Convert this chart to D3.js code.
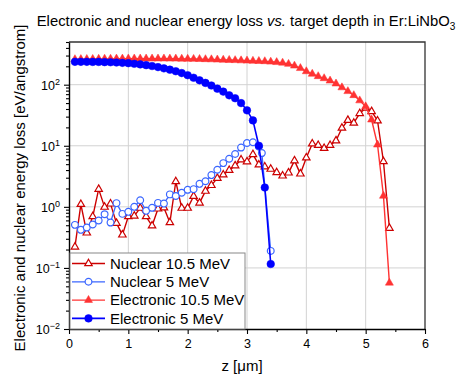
<!DOCTYPE html>
<html>
<head>
<meta charset="utf-8">
<script src="https://cdn.jsdelivr.net/npm/d3@7"></script>
<style>
  body { margin: 0; background: #fff; }
  svg { display: block; }
  text { font-family: "Liberation Sans", Arial, Helvetica, sans-serif; fill: #000; }
</style>
</head>
<body>
<svg id="chart" width="457" height="376"></svg>
<script>
// Depth grids (µm)
const depth105 = [0.1,0.2,0.3,0.4,0.5,0.6,0.7,0.8,0.9,1.0,
                  1.1,1.2,1.3,1.4,1.5,1.6,1.7,1.8,1.9,2.0,
                  2.1,2.2,2.3,2.4,2.5,2.6,2.7,2.8,2.9,3.0,
                  3.1,3.2,3.3,3.4,3.5,3.6,3.7,3.8,3.9,4.0,
                  4.1,4.2,4.3,4.4,4.5,4.6,4.7,4.8,4.9,5.0,
                  5.1,5.2,5.3,5.4];
const depthNuc5 = [0.1,0.2,0.3,0.4,0.5,0.6,0.7,0.8,0.9,1.0,
                   1.1,1.2,1.3,1.4,1.5,1.6,1.7,1.8,1.9,2.0,
                   2.1,2.2,2.3,2.4,2.5,2.6,2.7,2.8,2.9,3.0,
                   3.1,3.2,3.25,3.4];
const depthElec5 = [0.1,0.2,0.3,0.4,0.5,0.6,0.7,0.8,0.9,1.0,
                    1.1,1.2,1.3,1.4,1.5,1.6,1.7,1.8,1.9,2.0,
                    2.1,2.2,2.3,2.4,2.5,2.6,2.7,2.8,2.9,3.0,
                    3.1,3.2,3.3,3.4];

// Energy loss (eV/angstrom)
const nuclear105 = [0.221,1.10,0.375,0.693,1.95,0.99,1.12,0.541,0.348,0.693,
                    0.711,0.953,0.693,0.489,0.927,0.964,0.553,2.60,0.953,0.953,
                    1.49,1.16,1.81,2.25,2.95,3.35,3.97,4.73,5.89,5.50,
                    7.22,4.88,4.53,4.15,3.65,3.22,3.60,5.71,3.47,6.35,
                    10.8,10.2,9.10,10.2,12.1,19.5,26.2,23.6,33.9,41.5,
                    36.5,25.7,5.53,0.448];
const nuclear5 = [0.507,0.42,0.458,0.513,0.596,0.759,0.553,1.15,0.767,0.828,
                  1.0,1.28,0.86,0.964,1.16,1.13,1.60,1.51,1.70,1.90,
                  1.95,2.38,2.62,3.31,4.05,5.20,6.12,7.34,9.34,11.1,
                  11.4,9.64,7.59,0.19];
const electronic105 = [260,261,262,263,264,265,265,266,266,267,
                       267,267,267,267,267,267,266,266,265,264,
                       263,262,260,259,257,255,253,251,249,247,
                       245,243,241,237,233,228,218,204,186,165,
                       150,137,127,116,104,90,78,67,55,44,
                       26.7,10.4,1.51,0.057];
const electronic5 = [237,237,237,236,236,234,233,231,228,225,
                     220,215,209,202,194,185,176,166,155,143,
                     130,118,107,97,86,77,67,60,50,38,
                     26,10,2.07,0.116];

// Axis ticks
const xTicks = [0,1,2,3,4,5,6];
const xMinorTicks = [0.5,1.5,2.5,3.5,4.5,5.5];
const yExponents = [-2,-1,0,1,2];

const seriesNames = ["Nuclear 10.5 MeV","Nuclear 5 MeV","Electronic 10.5 MeV","Electronic 5 MeV"];

const series = [
  { name: seriesNames[0], xs: depth105,   ys: nuclear105,    color: "#cc0000", symbol: d3.symbolTriangle, size: 24, open: true,  lw: 1.4 },
  { name: seriesNames[1], xs: depthNuc5,  ys: nuclear5,      color: "#3a66ff", symbol: d3.symbolCircle,   size: 36, open: true,  lw: 1.3 },
  { name: seriesNames[2], xs: depth105,   ys: electronic105, color: "#ff3333", symbol: d3.symbolTriangle, size: 28, open: false, lw: 1.4 },
  { name: seriesNames[3], xs: depthElec5, ys: electronic5,   color: "#0000ff", symbol: d3.symbolCircle,   size: 46, open: false, lw: 1.6 }
];

const svg = d3.select("#chart");
const L = 69, R = 425, T = 42, B = 329;

const x = d3.scaleLinear().domain([0, 6]).range([L, R]);
const y = d3.scaleLog().domain([0.01, 500]).range([B, T]);

const yMajor = yExponents.map(e => Math.pow(10, e));
const yMinor = [];
yExponents.forEach(e => {
  for (let m = 2; m <= 9; m++) {
    const v = m * Math.pow(10, e);
    if (v <= 500) yMinor.push(v);
  }
});

// grid
const grid = svg.append("g").attr("stroke", "#d2d2d2").attr("stroke-width", 1);
grid.selectAll("line.gx").data(xTicks.slice(1, -1)).join("line")
  .attr("x1", d => x(d)).attr("x2", d => x(d)).attr("y1", T).attr("y2", B);
grid.selectAll("line.gy").data(yMajor.slice(1)).join("line")
  .attr("x1", L).attr("x2", R).attr("y1", d => y(d)).attr("y2", d => y(d));

// frame (top / right)
svg.append("path")
  .attr("d", `M${L},${T}H${R}V${B}`)
  .attr("fill", "none").attr("stroke", "#333").attr("stroke-width", 1.3);

// data
const line = d3.line();
series.forEach(s => {
  const pts = s.xs.map((d, i) => [x(d), y(s.ys[i])]);
  const g = svg.append("g");
  g.append("path").attr("d", line(pts))
    .attr("fill", "none").attr("stroke", s.color).attr("stroke-width", s.lw)
    .attr("stroke-linejoin", "round");
  g.selectAll("path.m").data(pts).join("path")
    .attr("class", "m")
    .attr("transform", d => `translate(${d[0]},${d[1]})`)
    .attr("d", d3.symbol(s.symbol, s.size)())
    .attr("fill", s.open ? "#fff" : s.color)
    .attr("stroke", s.color)
    .attr("stroke-width", s.open ? 1.2 : 0.5);
});

// x axis
const xAxisG = svg.append("g").attr("transform", `translate(0,${B})`);
xAxisG.call(d3.axisBottom(x).tickValues(xMinorTicks).tickSize(3).tickSizeOuter(0).tickFormat(""))
  .call(g => g.select(".domain").remove());
xAxisG.append("g")
  .call(d3.axisBottom(x).tickValues(xTicks).tickSize(5).tickSizeOuter(0).tickPadding(5).tickFormat(d3.format("d")))
  .call(g => g.selectAll("text").attr("font-size", 12.5).attr("font-family", null));
xAxisG.selectAll(".domain").attr("stroke", "#000").attr("stroke-width", 1.4);
xAxisG.selectAll(".tick line").attr("stroke", "#000").attr("stroke-width", 1.1);

// y axis
const yAxisG = svg.append("g").attr("transform", `translate(${L},0)`);
yAxisG.call(d3.axisLeft(y).tickValues(yMinor).tickSize(3).tickSizeOuter(0).tickFormat(""))
  .call(g => g.select(".domain").remove());
const yMajG = yAxisG.append("g")
  .call(d3.axisLeft(y).tickValues(yMajor).tickSize(5).tickSizeOuter(0).tickPadding(4).tickFormat(""));
yMajG.selectAll(".tick text").each(function(d) {
  const t = d3.select(this)
    .attr("font-size", 12.5).attr("font-family", null)
    .attr("dy", "0.36em");
  const e = Math.round(Math.log10(d));
  t.append("tspan").text("10");
  t.append("tspan").attr("font-size", 9).attr("dy", "-0.55em")
    .text(e < 0 ? "\u2212" + Math.abs(e) : String(e));
});
yAxisG.selectAll(".domain").attr("stroke", "#000").attr("stroke-width", 1.4);
yAxisG.selectAll(".tick line").attr("stroke", "#000").attr("stroke-width", 1.1);

// titles
const title = svg.append("text")
  .attr("x", 246).attr("y", 26).attr("text-anchor", "middle").attr("font-size", 14.8);
title.append("tspan").text("Electronic and nuclear energy loss ");
title.append("tspan").attr("font-style", "italic").text("vs.");
title.append("tspan").text(" target depth in Er:LiNbO");
title.append("tspan").attr("font-size", 10).attr("dy", 4).text("3");

svg.append("text")
  .attr("transform", "translate(25,188) rotate(-90)")
  .attr("text-anchor", "middle").attr("font-size", 15)
  .text("Electronic and nuclear energy loss [eV/angstrom]");

svg.append("text")
  .attr("x", 242).attr("y", 371).attr("text-anchor", "middle").attr("font-size", 15)
  .text("z [\u03bcm]");

// legend
const leg = svg.append("g");
leg.append("rect").attr("x", 70).attr("y", 253).attr("width", 175).attr("height", 76)
  .attr("fill", "#fff").attr("stroke", "#888").attr("stroke-width", 1);
series.forEach((s, i) => {
  const cy = 263.5 + i * 18.3;
  leg.append("line").attr("x1", 72).attr("x2", 105).attr("y1", cy).attr("y2", cy)
    .attr("stroke", s.color).attr("stroke-width", s.lw);
  leg.append("path").attr("transform", `translate(88.5,${cy})`)
    .attr("d", d3.symbol(s.symbol, s.size)())
    .attr("fill", s.open ? "#fff" : s.color)
    .attr("stroke", s.color).attr("stroke-width", s.open ? 1.2 : 0.5);
  leg.append("text").attr("x", 110).attr("y", cy).attr("dy", "0.35em")
    .attr("font-size", 15).text(s.name);
});
</script>
</body>
</html>
